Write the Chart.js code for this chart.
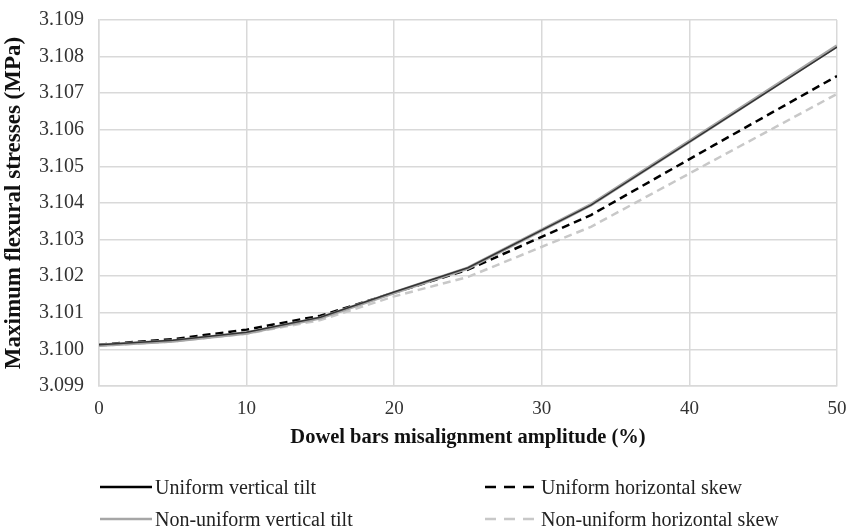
<!DOCTYPE html>
<html>
<head>
<meta charset="utf-8">
<script src="https://cdn.jsdelivr.net/npm/chart.js@4.4.1/dist/chart.umd.min.js"></script>
<style>
  html, body { margin: 0; padding: 0; background: #fff; }
  #wrap { position: relative; width: 849px; height: 532px; }
  #c { position: absolute; left: 0; top: 0; }
  .leg { position: absolute; font-family: "Liberation Serif", serif; font-size: 20px; color: #222; white-space: nowrap; display: flex; align-items: center; height: 26px; }
  .leg svg { margin-right: 3px; }
</style>
</head>
<body>
<div id="wrap">
  <canvas id="c" width="849" height="532"></canvas>
  <div class="leg" style="left:100px; top:474px;"><svg width="52" height="6"><line x1="0" y1="3" x2="52" y2="3" stroke="#000" stroke-width="2.5"/></svg><span>Uniform vertical tilt</span></div>
  <div class="leg" style="left:485px; top:474px;"><svg width="53" height="6"><line x1="0" y1="3" x2="53" y2="3" stroke="#000" stroke-width="2.5" stroke-dasharray="11,8"/></svg><span>Uniform horizontal skew</span></div>
  <div class="leg" style="left:100px; top:506px;"><svg width="52" height="6"><line x1="0" y1="3" x2="52" y2="3" stroke="#a6a6a6" stroke-width="2.5"/></svg><span>Non-uniform vertical tilt</span></div>
  <div class="leg" style="left:485px; top:506px;"><svg width="53" height="6"><line x1="0" y1="3" x2="53" y2="3" stroke="#c8c8c8" stroke-width="2.5" stroke-dasharray="11,8"/></svg><span>Non-uniform horizontal skew</span></div>
</div>
<script>
const amplitudes = [0, 5, 10, 15, 20, 25, 33.33, 41.67, 50];
const uniformVertical    = [3.10013, 3.10025, 3.10047, 3.10088, 3.10157, 3.10223, 3.10394, 3.10610, 3.10826];
const nonUniformVertical = [3.10011, 3.10023, 3.10045, 3.10086, 3.10155, 3.10222, 3.10395, 3.10612, 3.10829];
const uniformHorizontal  = [3.10013, 3.10028, 3.10054, 3.10092, 3.10155, 3.10218, 3.10367, 3.10558, 3.10747];
const nonUniformHorizontal = [3.10010, 3.10022, 3.10043, 3.10080, 3.10145, 3.10198, 3.10335, 3.10517, 3.10698];
const yTickMin = 3.099, yTickMax = 3.109, yTickStep = 0.001;
const xTickMin = 0, xTickMax = 50, xTickStep = 10;

const pts = arr => amplitudes.map((a, i) => ({ x: a, y: arr[i] }));
const serif = "'Liberation Serif', serif";

new Chart(document.getElementById('c'), {
  type: 'line',
  data: {
    datasets: [
      { label: 'Non-uniform horizontal skew', data: pts(nonUniformHorizontal), borderColor: '#c8c8c8', borderWidth: 2.5, borderDash: [8, 5], order: 4 },
      { label: 'Uniform horizontal skew', data: pts(uniformHorizontal), borderColor: '#000', borderWidth: 2.5, borderDash: [8, 5], order: 3 },
      { label: 'Non-uniform vertical tilt', data: pts(nonUniformVertical), borderColor: '#a6a6a6', borderWidth: 3.5, order: 2 },
      { label: 'Uniform vertical tilt', data: pts(uniformVertical), borderColor: '#333', borderWidth: 1.5, order: 1 }
    ]
  },
  options: {
    responsive: false,
    animation: false,
    devicePixelRatio: 1,
    layout: { padding: { top: 20, right: 12, bottom: 76, left: 0 } },
    elements: { point: { radius: 0 }, line: { tension: 0, fill: false } },
    plugins: { legend: { display: false }, tooltip: { enabled: false } },
    scales: {
      x: {
        type: 'linear', min: xTickMin, max: xTickMax,
        afterFit: s => { s.height = 70; s.paddingLeft = 0; s.paddingRight = 0; },
        grid: { color: '#d9d9d9', drawTicks: false, lineWidth: 1.5 },
        border: { color: '#d9d9d9', width: 1.5 },
        ticks: { stepSize: xTickStep, padding: 12, color: '#333', font: { family: serif, size: 19 } },
        title: { display: true, text: 'Dowel bars misalignment amplitude (%)', color: '#111', font: { family: serif, size: 20.5, weight: 'bold' }, padding: { top: 0, bottom: 6 } }
      },
      y: {
        min: yTickMin, max: yTickMax,
        afterFit: s => { s.width = 99; s.paddingTop = 0; s.paddingBottom = 0; },
        grid: { color: '#d9d9d9', drawTicks: false, lineWidth: 1.5 },
        border: { color: '#d9d9d9', width: 1.5 },
        ticks: { stepSize: yTickStep, padding: 15, color: '#333', font: { family: serif, size: 20 }, callback: v => v.toFixed(3) },
        title: { display: true, text: 'Maximum flexural stresses (MPa)', color: '#111', font: { family: serif, size: 23, weight: 'bold' }, padding: { top: 0, bottom: 0 } }
      }
    }
  }
});
</script>
</body>
</html>
